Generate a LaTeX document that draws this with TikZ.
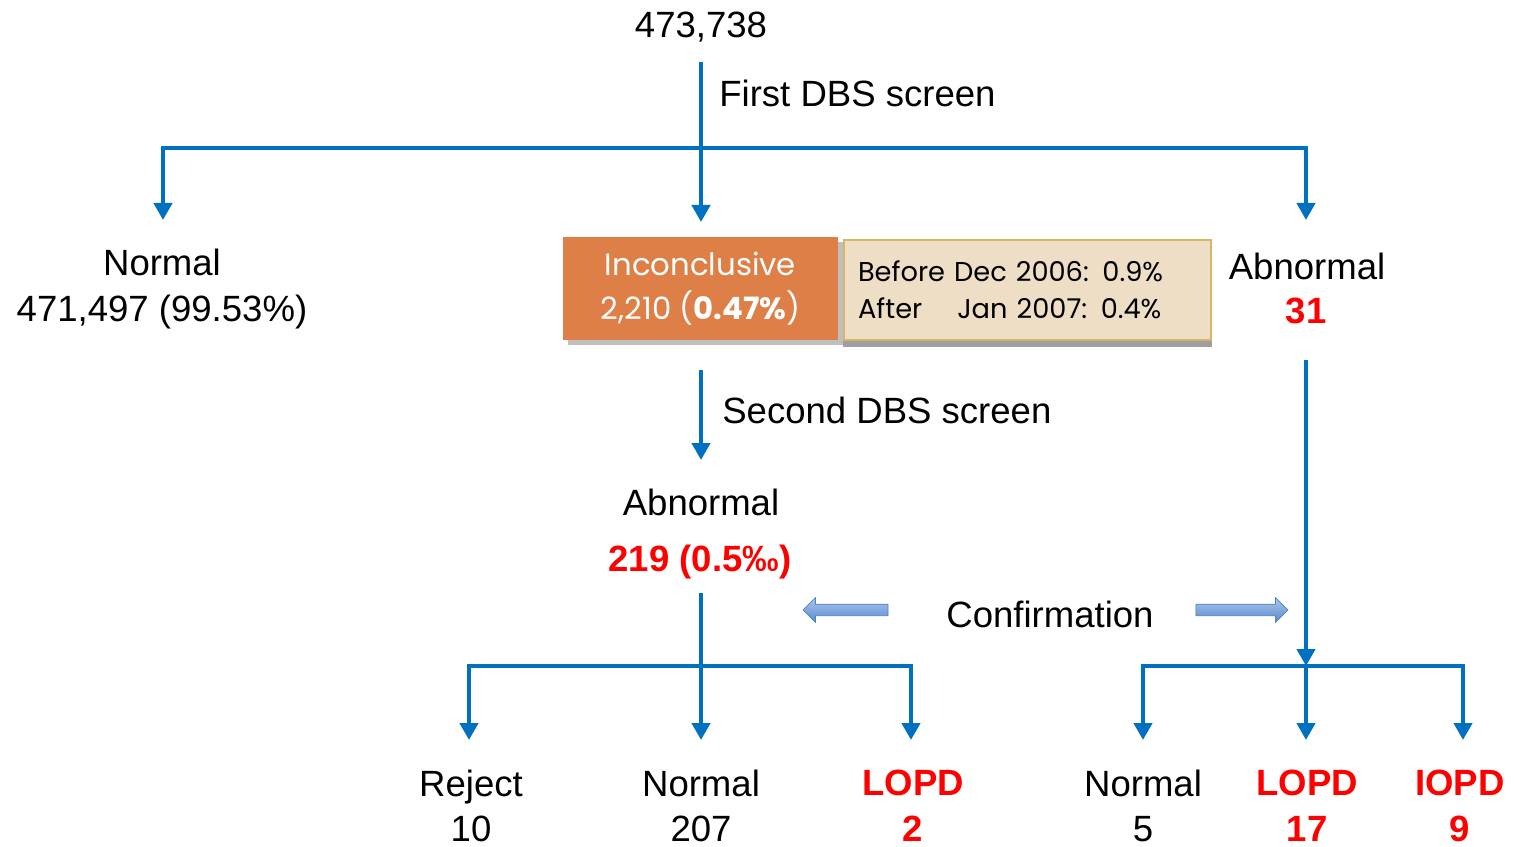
\documentclass[tikz,border=0pt]{standalone}
\usepackage{fontspec}
\setmainfont{Liberation Sans}
\newfontfamily\gothic{Poppins}
\usetikzlibrary{arrows.meta, shapes.arrows, shadows}
\definecolor{lineblue}{HTML}{0070C0}
\definecolor{boxorange}{HTML}{DD7F47}
\definecolor{boxbeige}{HTML}{EEDEC5}
\definecolor{boxgold}{HTML}{D6B565}
\definecolor{arrowtop}{HTML}{A9C6EC}
\definecolor{arrowbot}{HTML}{5A8BD0}
\definecolor{arrowrim}{HTML}{4F81BD}
\tikzstyle{flow} = [draw=lineblue, line width=2.8pt]
\tikzstyle{arrow} = [flow, -{Triangle[length=0.34cm, width=0.36cm]}]
\tikzstyle{txt} = [font=\fontsize{20.8}{26}\selectfont, align=center, inner sep=0pt]
\tikzstyle{redtxt} = [txt, text=red, font=\fontsize{20.8}{26}\selectfont\bfseries]
\tikzstyle{blockarrow} = [single arrow, draw=arrowrim, top color=arrowtop, bottom color=arrowbot,
  minimum height=1.7cm, inner sep=0.11cm, single arrow head extend=0.13cm, single arrow head indent=0pt]

\begin{document}
\begin{tikzpicture}[x=0.02cm, y=-0.02cm]
	\useasboundingbox (0,0) rectangle (1514,847);
	% first screen
	\node[txt] (total) at (701,27) {473,738};
	\node[txt, anchor=west] (first) at (719,93) {First DBS screen};
	\coordinate (top) at (701,62);
	\coordinate (split) at (701,148);
	\coordinate (normaltip) at (163,220);
	\coordinate (inconctip) at (701,222);
	\coordinate (abntip) at (1306,220);
	\draw[arrow] (top) -- (inconctip);
	\draw[arrow] (split) -| (normaltip);
	\draw[arrow] (split) -| (abntip);
	\node[txt] (normal) at (162,289) {Normal\\471,497 (99.53\%)};
	\node[fill=boxorange, minimum width=5.5cm, minimum height=2.06cm, drop shadow,
	  text=white, align=center, font=\gothic\fontsize{17.5}{25}\selectfont] (inconc) at (700.5,288.5)
	  {Inconclusive\\2,210 (\textbf{0.47\%})};
	\node[fill=boxbeige, draw=boxgold, line width=1pt, text width=6.78cm, inner xsep=0.28cm,
	  minimum height=2cm, align=left, font=\gothic\fontsize{15.5}{22}\selectfont] (note) at (1027.5,290)
	  {Before Dec 2006: 0.9\%\\[-1pt]After\hspace{0.7cm}Jan 2007: 0.4\%};
	\fill[gray!75] (note.south west) rectangle ([yshift=-0.12cm]note.south east);
	\node[txt] (abnormal) at (1307,266) {Abnormal};
	\node[redtxt] (abncount) at (1306,311) {31};
	% second screen
	\coordinate (second) at (701,370);
	\coordinate (secondtip) at (701,460);
	\draw[arrow] (second) -- (secondtip);
	\node[txt, anchor=west] (secondlbl) at (722,410) {Second DBS screen};
	\node[txt] (abnormal2) at (701,502) {Abnormal};
	\node[redtxt] (abncount2) at (700,562) {219 (0.5‰)};
	% confirmation, left tree
	\coordinate (left) at (701,593);
	\coordinate (leftsplit) at (701,666);
	\coordinate (rejecttip) at (469,740);
	\coordinate (normaltip2) at (701,740);
	\coordinate (lopdtip) at (911,740);
	\draw[arrow] (left) -- (normaltip2);
	\draw[arrow] (leftsplit) -| (rejecttip);
	\draw[arrow] (leftsplit) -| (lopdtip);
	\node[txt] (reject) at (471,806) {Reject\\10};
	\node[txt] (normal2) at (701,806) {Normal\\207};
	\node[redtxt] (lopd) at (913,806) {LOPD\\2};
	% confirmation, right tree
	\coordinate (right) at (1306,360);
	\coordinate (rightsplit) at (1306,666);
	\coordinate (normaltip3) at (1143,740);
	\coordinate (lopdtip2) at (1306,740);
	\coordinate (iopdtip) at (1463,740);
	\draw[arrow] (right) -- (rightsplit);
	\draw[arrow] (rightsplit) -- (lopdtip2);
	\draw[arrow] (rightsplit) -| (normaltip3);
	\draw[arrow] (rightsplit) -| (iopdtip);
	\node[txt] (normal3) at (1143,806) {Normal\\5};
	\node[redtxt] (lopd2) at (1307,806) {LOPD\\17};
	\node[redtxt] (iopd) at (1460,806) {IOPD\\9};
	% confirmation label
	\node[txt] (confirm) at (1050,614) {Confirmation};
	\node[blockarrow, shape border rotate=180] (confleft) at (848.5,610) {};
	\node[blockarrow, minimum height=1.84cm] (confright) at (1239,610) {};
\end{tikzpicture}
\end{document}
